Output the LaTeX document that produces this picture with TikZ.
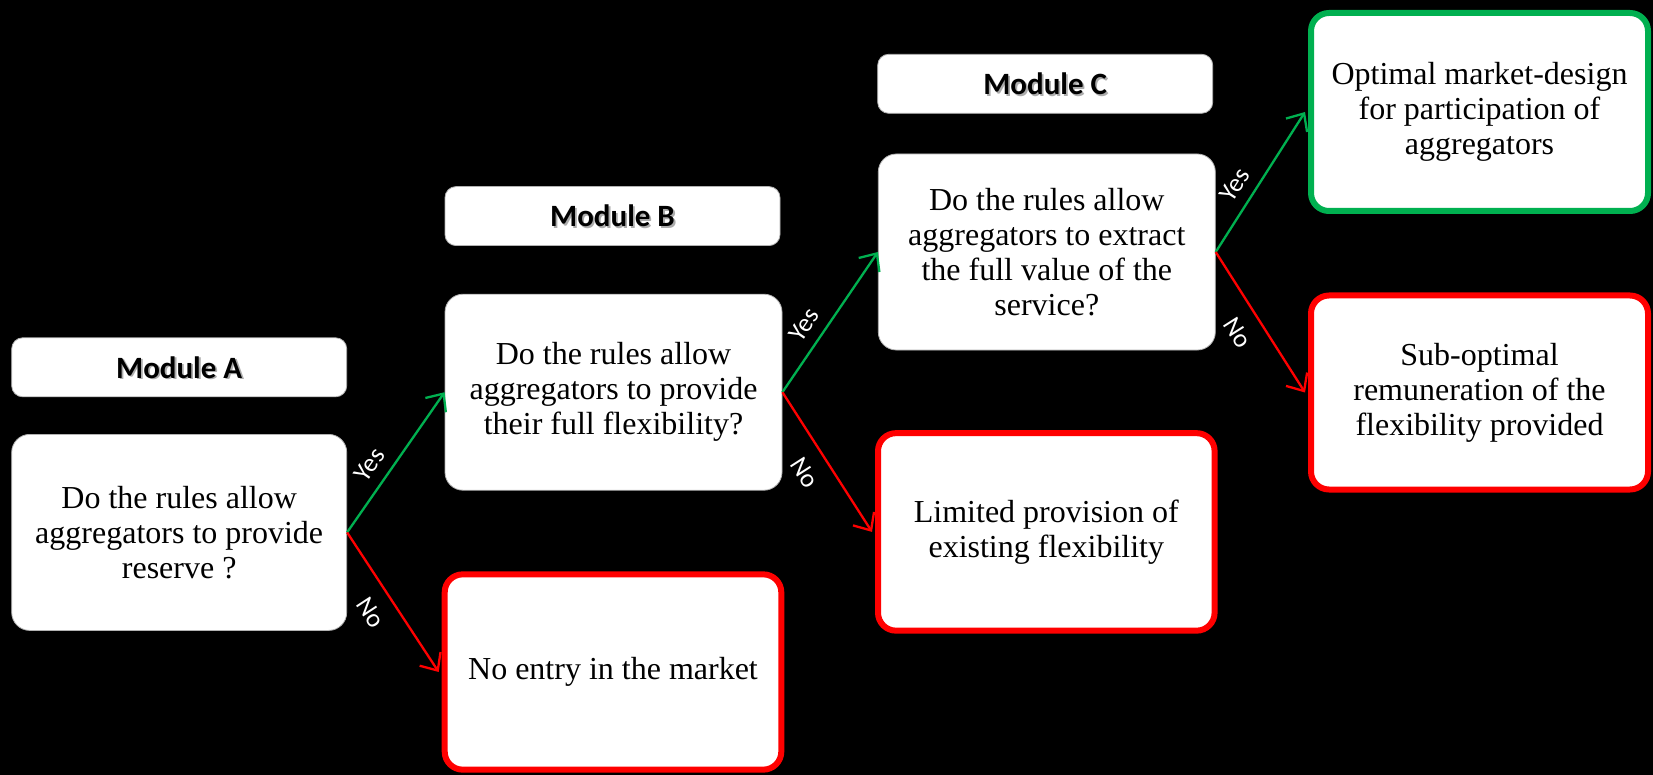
\documentclass[tikz,border=0pt]{standalone}
\usepackage{fontspec}
\setmainfont{Liberation Serif}
\newfontfamily\calib{Carlito}
\usetikzlibrary{arrows.meta}
\definecolor{ygreen}{HTML}{00B050}
\definecolor{nred}{HTML}{FF0000}
\tikzset{
  every node/.style={inner sep=0pt, align=center},
  whitebox/.style={fill=white, draw=gray!60, line width=0.8pt, rounded corners=18pt,
     font=\fontsize{32}{35}\selectfont},
  redbox/.style={whitebox, draw=nred, line width=6pt},
  greenbox/.style={whitebox, draw=ygreen, line width=6pt},
  modbox/.style={fill=white, draw=gray!60, line width=0.8pt, rounded corners=11pt},
  modtext/.style={font=\calib\bfseries\fontsize{31}{34}\selectfont},
  tipshape/.style={-{Straight Barb[length=14pt,width=25pt,line width=2.3pt]}},
  yesarrow/.style={draw=ygreen, line width=2.3pt, tipshape},
  noarrow/.style={draw=nred, line width=2.3pt, tipshape},
  lbl/.style={text=white, font=\calib\fontsize{26}{28}\selectfont, sloped, inner sep=0pt},
  yeslbl/.style={lbl, pos=0.40, above=10.5pt},
  nolbl/.style={lbl, pos=0.48, below=15pt}
}
\newcommand{\modlabel}[3]{%
  \node[modbox, minimum width=335pt, minimum height=59pt] (#1) at (#2) {};
  \node[modtext, text=gray!65] at ([xshift=1.8pt,yshift=-1.8pt]#1.center) {#3};
  \node[modtext, text=black] at (#1.center) {#3};
}
\begin{document}
\begin{tikzpicture}[x=1pt,y=-1pt]
\fill[black] (0,0) rectangle (1653,775);
\useasboundingbox (0,0) rectangle (1653,775);

\modlabel{modA}{179.2,367.3}{Module A}
\modlabel{modB}{612.5,216.1}{Module B}
\modlabel{modC}{1045.2,83.8}{Module C}

\node[whitebox, minimum width=335pt, minimum height=196pt] (qA) at (179.2,532.4)
  {Do the rules allow\\aggregators to provide\\reserve ?};
\node[whitebox, minimum width=337pt, minimum height=196pt] (qB) at (613.5,392.2)
  {Do the rules allow\\aggregators to provide\\their full flexibility?};
\node[whitebox, minimum width=337pt, minimum height=196pt] (qC) at (1046.8,252)
  {Do the rules allow\\aggregators to extract\\the full value of the\\service?};

\node[redbox, minimum width=336.6pt, minimum height=195.3pt] (noentry) at (613,672)
  {No entry in the market};
\node[redbox, minimum width=336.6pt, minimum height=197.5pt] (limited) at (1046.3,531.9)
  {Limited provision of\\existing flexibility};
\node[greenbox, minimum width=337pt, minimum height=198pt] (optimal) at (1479.5,112)
  {Optimal market-design\\for participation of\\aggregators};
\node[redbox, minimum width=337pt, minimum height=194pt] (subopt) at (1479.5,392.5)
  {Sub-optimal\\remuneration of the\\flexibility provided};

\draw[yesarrow] (qA.east) -- (qB.west) node[yeslbl] {Yes};
\draw[noarrow] (qA.east) -- ([xshift=-3pt]noentry.west) node[nolbl] {No};
\draw[yesarrow] (qB.east) -- (qC.west) node[yeslbl] {Yes};
\draw[noarrow] (qB.east) -- ([xshift=-3pt]limited.west) node[nolbl] {No};
\draw[yesarrow] (qC.east) -- ([xshift=-3pt]optimal.west) node[yeslbl] {Yes};
\draw[noarrow] (qC.east) -- ([xshift=-3pt]subopt.west) node[nolbl] {No};
\end{tikzpicture}
\end{document}
